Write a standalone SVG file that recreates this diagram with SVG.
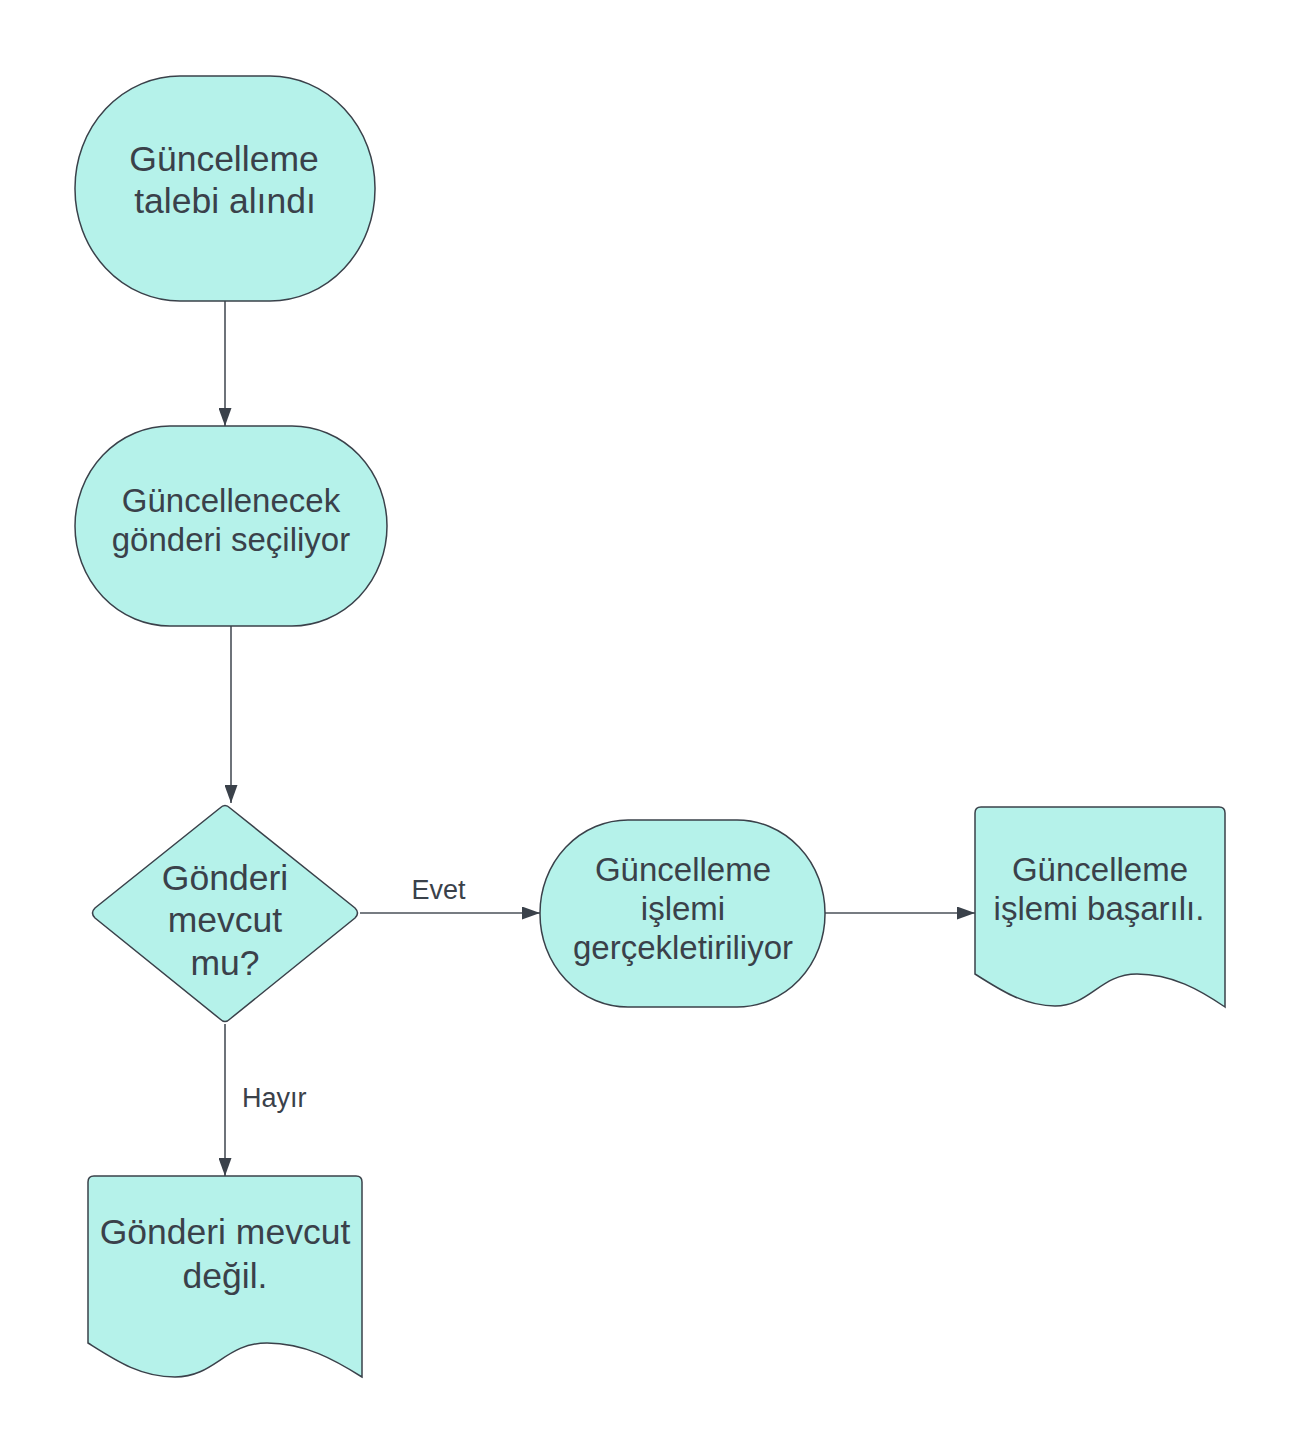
<svg xmlns="http://www.w3.org/2000/svg" width="1302" height="1452" viewBox="0 0 1302 1452">
<defs>
<style>
.shape{fill:#b5f2ea;stroke:#3a414a;stroke-width:1.5}
.t{font-family:"Liberation Sans",Arial,sans-serif;fill:#3a414a;text-anchor:middle}
.big{font-size:35.5px}
.small{font-size:33px}
.lbl{font-family:"Liberation Sans",Arial,sans-serif;fill:#3a414a;font-size:27px}
.conn{fill:none;stroke:#4a5058;stroke-width:1.6}
</style>
<marker id="arr" viewBox="0 0 18 13" refX="18" refY="6.5" markerWidth="18" markerHeight="13" markerUnits="userSpaceOnUse" orient="auto">
<path d="M0,0 L18,6.5 L0,13 Z" fill="#3a414a"/>
</marker>
</defs>
<rect width="1302" height="1452" fill="#ffffff"/>
<g id="connectors">
<line class="conn" x1="225" y1="301" x2="225" y2="426" marker-end="url(#arr)"/>
<line class="conn" x1="231" y1="626" x2="231" y2="803" marker-end="url(#arr)"/>
<line class="conn" x1="360" y1="913" x2="540" y2="913" marker-end="url(#arr)"/>
<line class="conn" x1="825" y1="913" x2="975" y2="913" marker-end="url(#arr)"/>
<line class="conn" x1="225" y1="1024" x2="225" y2="1176" marker-end="url(#arr)"/>
<text class="lbl" x="438.5" y="899" text-anchor="middle">Evet</text>
<text class="lbl" x="242" y="1107">Hayır</text>
</g>
<g id="node-start">
<rect class="shape" x="75" y="76" width="300" height="225" rx="105" ry="112"/>
<text class="t big" x="224" y="171">Güncelleme</text>
<text class="t big" x="225" y="213">talebi alındı</text>
</g>
<g id="node-select">
<rect class="shape" x="75" y="426" width="312" height="200" rx="95" ry="100"/>
<text class="t small" x="231" y="512">Güncellenecek</text>
<text class="t small" x="231" y="551">gönderi seçiliyor</text>
</g>
<g id="node-decision">
<path class="shape" d="M220,808 Q225,803 230,808 L355,908 Q360,913 355,918 L230,1019 Q225,1024 220,1019 L95,918 Q90,913 95,908 Z"/>
<text class="t big" x="225" y="890">Gönderi</text>
<text class="t big" x="225" y="932">mevcut</text>
<text class="t big" x="225" y="975">mu?</text>
</g>
<g id="node-process">
<rect class="shape" x="540" y="820" width="285" height="187" rx="88" ry="93"/>
<text class="t small" x="683" y="881">Güncelleme</text>
<text class="t small" x="683" y="920">işlemi</text>
<text class="t small" x="683" y="959">gerçekletiriliyor</text>
</g>
<g id="node-success">
<path class="shape" d="M975,813 Q975,807 981,807 L1219,807 Q1225,807 1225,813 L1225,1007 C1200,990 1172,974 1137,974 C1100,974 1090,1006 1055,1006 C1025,1006 1000,990 975,974 Z"/>
<text class="t small" x="1100" y="881">Güncelleme</text>
<text class="t small" x="1099" y="920">işlemi başarılı.</text>
</g>
<g id="node-notfound">
<path class="shape" d="M88,1182 Q88,1176 94,1176 L356,1176 Q362,1176 362,1182 L362,1377 C335,1360 305,1343 267,1343 C225,1343 215,1377 175,1377 C140,1377 115,1360 88,1343 Z"/>
<text class="t big" x="225" y="1244">Gönderi mevcut</text>
<text class="t big" x="225" y="1288">değil.</text>
</g>
</svg>
